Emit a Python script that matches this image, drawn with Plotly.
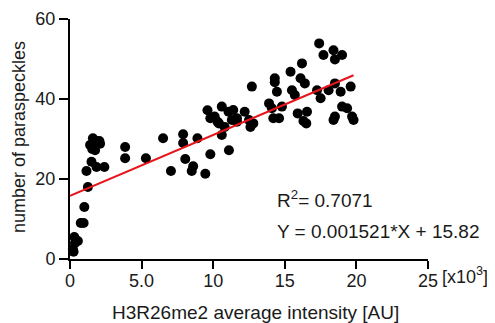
import plotly.graph_objects as go

# Data (x in thousands of AU, y = number of paraspeckles)
x_vals = [0.2, 0.35, 0.55, 0.3, 0.25, 0.75, 0.95, 1.0, 1.25, 1.15, 1.5, 1.85, 2.4,
          1.6, 1.85, 1.4, 1.75, 2.05, 1.55, 2.1, 3.85, 3.85, 5.3, 6.5, 7.05, 7.9, 7.9,
          8.05, 8.6, 8.5, 8.9, 9.45, 9.8, 11.1, 10.6,
          9.6, 9.8, 10.1, 10.3, 10.6, 10.4, 11.07, 11.3, 11.66, 10.8, 11.4, 12.2, 12.5,
          12.8, 12.6, 11.66, 12.7, 13.9, 14.1, 14.3, 14.3, 14.45, 14.2, 14.6, 14.8,
          15.4, 15.5, 15.7, 15.9, 16.2, 16.1, 16.4, 16.55, 16.3, 16.5,
          17.4, 17.7, 18.4, 18.5, 19.0, 17.25, 17.5, 18.06, 18.5, 18.9, 19.6, 19.0,
          19.35, 18.5, 18.4, 19.7, 19.8]
y_vals = [2.5, 4, 4.5, 5.5, 1.8, 9, 9, 13, 18, 22, 24.3, 23, 23,
          30.2, 29.5, 28.5, 27.2, 29.5, 27.5, 28.8, 28, 25.2, 25.2, 30.2, 22, 31.2, 29,
          25, 23.2, 22, 30.2, 21.3, 26.2, 27.2, 31,
          37.2, 35.2, 35.6, 34.3, 38.1, 33.9, 36.8, 34.75, 34.3, 33, 37.25, 36.8, 34.75,
          33.9, 33, 35.2, 43.1, 38.9, 37.7, 45.2, 44.2, 41.8, 35.2, 35.2, 38.1,
          46.8, 42.2, 41, 36.4, 48.9, 45.2, 43.9, 36.8, 34.5, 33.9,
          53.9, 51, 52.2, 49.9, 51, 42.2, 40.2, 42.2, 43.9, 41.8, 43.1, 38.1,
          37.7, 35.6, 34.75, 35.6, 34.75]

slope_per_thousand = 1.521   # 0.001521 per AU
intercept = 15.82
fit_x = [0.0, 19.8]
fit_y = [intercept + slope_per_thousand * v for v in fit_x]

x_ticks = [0, 5, 10, 15, 20, 25]
x_tick_labels = ["0", "5.0", "10", "15", "20", "25"]
y_ticks = [0, 20, 40, 60]

x_title = "H3R26me2 average intensity [AU]"
y_title = "number of paraspeckles"

FONT = "Liberation Sans, Arial, sans-serif"
TXT = "#1a1a1a"

fig = go.Figure()
fig.add_trace(go.Scatter(x=x_vals, y=y_vals, mode="markers",
                         marker=dict(color="black", size=10),
                         cliponaxis=False, showlegend=False))
fig.add_trace(go.Scatter(x=fit_x, y=fit_y, mode="lines",
                         line=dict(color="#e8141b", width=2),
                         cliponaxis=False, showlegend=False))

fig.update_layout(
    width=487, height=315,
    margin=dict(l=62, r=67, t=11, b=64),
    plot_bgcolor="white", paper_bgcolor="white",
    font=dict(family=FONT, size=19, color=TXT),
    xaxis=dict(range=[0, 25], tickvals=x_ticks, ticktext=x_tick_labels, automargin=False,
               showgrid=False, zeroline=False, showline=True, linecolor="black",
               linewidth=2, ticks="outside", ticklen=8, tickwidth=2, tickcolor="black",
               ticklabelstandoff=-4,
               tickfont=dict(size=18, family=FONT, color=TXT)),
    yaxis=dict(range=[0, 60], tickvals=y_ticks, automargin=False,
               showgrid=False, zeroline=False, showline=True, linecolor="black",
               linewidth=2, ticks="outside", ticklen=9, tickwidth=2, tickcolor="black",
               tickfont=dict(size=18, family=FONT, color=TXT)),
)

# axis titles
fig.add_annotation(xref="paper", yref="paper", x=0.5, y=0, xanchor="center", yanchor="middle",
                   xshift=6, yshift=-53, showarrow=False, text=x_title,
                   font=dict(size=19, family=FONT, color=TXT))
fig.add_annotation(xref="paper", yref="paper", x=0, y=0.5, xanchor="center", yanchor="middle",
                   xshift=-51, yshift=2, textangle=-90, showarrow=False, text=y_title,
                   font=dict(size=18, family=FONT, color=TXT))

fig.add_annotation(xref="paper", yref="paper", x=1.0, y=0, xanchor="left", yanchor="top",
                   xshift=12, yshift=-3, showarrow=False,
                   text="[x10<sup>3</sup>]", font=dict(size=18, family=FONT, color=TXT))
fig.add_annotation(xref="x", yref="y", x=14.3, y=15, xanchor="left", yanchor="middle",
                   showarrow=False, text="R<sup>2</sup>= 0.7071",
                   font=dict(size=19, family=FONT, color=TXT))
fig.add_annotation(xref="x", yref="y", x=14.3, y=6.8, xanchor="left", yanchor="middle",
                   showarrow=False, text="Y = 0.001521*X + 15.82",
                   font=dict(size=19, family=FONT, color=TXT))

fig.write_html("out.html")
